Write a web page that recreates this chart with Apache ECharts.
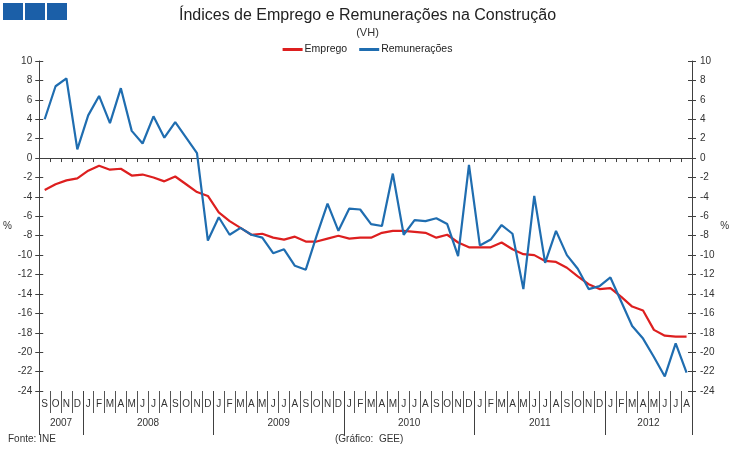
<!DOCTYPE html>
<html><head><meta charset="utf-8">
<script src="https://cdn.jsdelivr.net/npm/echarts@6/dist/echarts.min.js"></script>
<style>html,body{margin:0;padding:0;background:#fff}#c{width:735px;height:451px}</style>
</head><body><div id="c"></div>
<script>
const months = ['S','O','N','D',
 'J','F','M','A','M','J','J','A','S','O','N','D',
 'J','F','M','A','M','J','J','A','S','O','N','D',
 'J','F','M','A','M','J','J','A','S','O','N','D',
 'J','F','M','A','M','J','J','A','S','O','N','D',
 'J','F','M','A','M','J','J','A'];
const years = ['2007','2008','2009','2010','2011','2012'];
const yearMonthCounts = [4,12,12,12,12,8];
const emprego = [-3.3,-2.7,-2.3,-2.1,-1.3,-0.8,-1.2,-1.1,-1.8,-1.7,-2.0,-2.4,-1.9,-2.7,-3.5,-3.9,
 -5.6,-6.5,-7.2,-7.9,-7.8,-8.2,-8.4,-8.1,-8.6,-8.6,-8.3,-8.0,-8.3,-8.2,-8.2,
 -7.7,-7.5,-7.5,-7.6,-7.7,-8.2,-7.9,-8.7,-9.2,-9.2,-9.2,-8.7,-9.4,-9.9,-10.0,-10.6,-10.7,
 -11.3,-12.2,-13.0,-13.5,-13.4,-14.3,-15.3,-15.7,-17.7,-18.3,-18.4,-18.4];
const remuneracoes = [4.0,7.4,8.2,0.9,4.4,6.4,3.6,7.2,2.8,1.5,4.3,2.1,3.7,2.1,0.5,
 -8.5,-6.1,-7.9,-7.2,-7.9,-8.2,-9.8,-9.4,-11.1,-11.5,-8.0,-4.7,-7.5,-5.2,-5.3,-6.8,-7.0,
 -1.6,-7.9,-6.4,-6.5,-6.2,-6.8,-10.1,-0.7,-9.0,-8.4,-6.9,-7.8,-13.5,-3.9,-10.8,-7.5,
 -10.0,-11.4,-13.5,-13.2,-12.3,-14.8,-17.3,-18.6,-20.5,-22.5,-19.1,-22.1];
const yMin = -24, yMax = 10, yStep = 2;

// year boundaries / centres derived from counts
const yearBounds = [0], yearCenters = [];
yearMonthCounts.forEach((n,i)=>{ const s = yearBounds[yearBounds.length-1]; yearCenters.push(s+n/2); yearBounds.push(s+n); });

const FONT = 'Liberation Sans, Arial, sans-serif';
const AX = '#404040';
const chart = echarts.init(document.getElementById('c'));
const yBase = {type:'value', min:yMin, max:yMax, interval:yStep, splitLine:{show:false}};
chart.setOption({
  animation:false,
  textStyle:{fontFamily:FONT},
  title:{text:'Índices de Emprego e Remunerações na Construção', subtext:'(VH)', left:'center', top:3, itemGap:3,
    textStyle:{fontSize:16, fontWeight:'normal', color:'#222', fontFamily:FONT},
    subtextStyle:{fontSize:11, color:'#333', fontFamily:FONT}},
  legend:{top:39, left:'center', icon:'rect', itemWidth:20, itemHeight:3, itemGap:12,
    textStyle:{fontSize:10.5, color:'#222', padding:[0,0,0,-3]}, data:['Emprego','Remunerações']},
  grid:{left:36, right:43, top:61, bottom:60, containLabel:false},
  xAxis:[
    {type:'category', data:months, boundaryGap:true,
     axisLine:{onZero:true, lineStyle:{color:AX, width:1}},
     axisTick:{show:true, interval:0, length:4, lineStyle:{color:AX}},
     axisLabel:{show:false}},
    {type:'category', data:months, position:'bottom', boundaryGap:true,
     axisLine:{show:false, onZero:false},
     axisTick:{show:true, interval:0, length:22, lineStyle:{color:'#555'}},
     axisLabel:{show:true, interval:0, margin:8, fontSize:10, color:'#333'}},
    {type:'value', min:0, max:months.length, position:'bottom', splitLine:{show:false},
     axisLine:{show:false, onZero:false},
     axisTick:{show:true, customValues:yearBounds, length:44, lineStyle:{color:AX}},
     axisLabel:{show:true, customValues:yearCenters, margin:27, fontSize:10, color:'#333',
       formatter:(v)=>{ const i = yearCenters.indexOf(v); return i>=0?years[i]:''; }}}
  ],
  yAxis:[
    Object.assign({}, yBase, {position:'left', name:'%', nameLocation:'middle', nameRotate:0, nameGap:21,
      nameTextStyle:{fontSize:10, color:'#333'},
      axisLine:{show:true, onZero:false, lineStyle:{color:AX}},
      axisTick:{show:true, length:4, lineStyle:{color:AX}},
      axisLabel:{fontSize:10, color:'#333', margin:7}}),
    Object.assign({}, yBase, {position:'right', name:'%', nameLocation:'middle', nameRotate:0, nameGap:28,
      nameTextStyle:{fontSize:10, color:'#333'},
      axisLine:{show:true, onZero:false, lineStyle:{color:AX}},
      axisTick:{show:true, length:4, lineStyle:{color:AX}},
      axisLabel:{fontSize:10, color:'#333', margin:8}}),
    Object.assign({}, yBase, {position:'left', axisLine:{show:false, onZero:false},
      axisTick:{show:true, inside:true, length:4, lineStyle:{color:AX}}, axisLabel:{show:false}}),
    Object.assign({}, yBase, {position:'right', axisLine:{show:false, onZero:false},
      axisTick:{show:true, inside:true, length:4, lineStyle:{color:AX}}, axisLabel:{show:false}})
  ],
  series:[
    {name:'Emprego', type:'line', data:emprego, xAxisIndex:0, yAxisIndex:0, symbol:'none',
     lineStyle:{color:'#dd1f1f', width:2.2}, itemStyle:{color:'#dd1f1f'}},
    {name:'Remunerações', type:'line', data:remuneracoes, xAxisIndex:0, yAxisIndex:0, symbol:'none',
     lineStyle:{color:'#1f6db0', width:2.2}, itemStyle:{color:'#1f6db0'}}
  ],
  graphic:[
    {type:'rect', left:3, top:3, shape:{width:20, height:17}, style:{fill:'#1b5fa8'}},
    {type:'rect', left:25, top:3, shape:{width:20, height:17}, style:{fill:'#1b5fa8'}},
    {type:'rect', left:47, top:3, shape:{width:20, height:17}, style:{fill:'#1b5fa8'}},
    {type:'text', left:8, top:434, style:{text:'Fonte: INE', fontSize:10, fill:'#333', fontFamily:FONT}},
    {type:'text', left:335, top:434, style:{text:'(Gráfico:  GEE)', fontSize:10, fill:'#333', fontFamily:FONT}}
  ]
});
</script></body></html>
